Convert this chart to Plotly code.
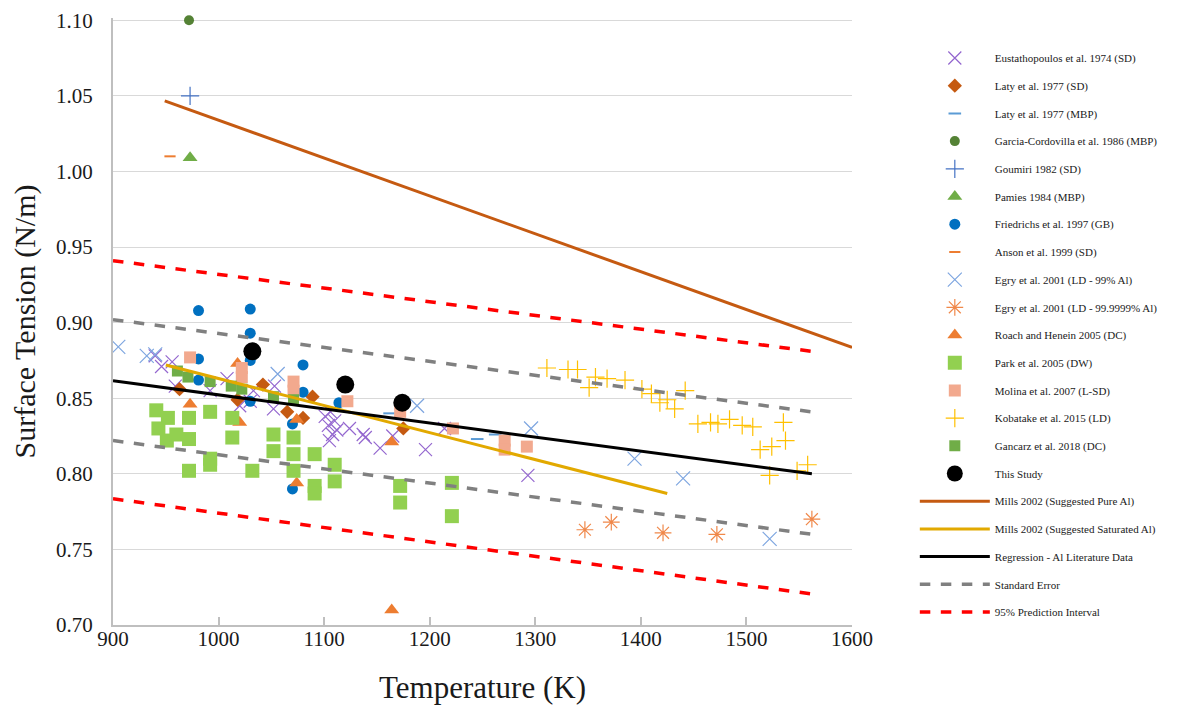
import plotly.graph_objects as go

# ---------------- data ----------------
eus_T = [940, 946, 956, 959, 992, 1008, 1020, 1030, 1033, 1052, 1053, 1101, 1104, 1106, 1108, 1110, 1112, 1105, 1124, 1137, 1139, 1153, 1165, 1196, 1214, 1293]
eus_g = [0.878, 0.871, 0.874, 0.858, 0.855, 0.863, 0.845, 0.848, 0.855, 0.843, 0.858, 0.838, 0.832, 0.841, 0.826, 0.835, 0.829, 0.822, 0.830, 0.826, 0.824, 0.817, 0.825, 0.816, 0.830, 0.799]

latySD_T = [963, 1018, 1042, 1065, 1080, 1089, 1175]
latySD_g = [0.856, 0.849, 0.859, 0.841, 0.837, 0.851, 0.830]

latyMBP_T = [1162, 1245, 1262]
latyMBP_g = [0.840, 0.823, 0.826]

garcia_T = [972]
garcia_g = [1.10]

goumiri_T = [973]
goumiri_g = [1.05]

pamies_T = [973]
pamies_g = [1.009]

fried_T = [981, 981, 981, 1030, 1030, 1030, 1030, 1080, 1080, 1070, 1070, 1114, 1120, 1172]
fried_g = [0.908, 0.876, 0.862, 0.909, 0.893, 0.875, 0.848, 0.872, 0.854, 0.833, 0.790, 0.847, 0.858, 0.845]

anson_T = [954]
anson_g = [1.010]

egry99_T = [905, 932, 940, 1056, 1188, 1296, 1394, 1440, 1522]
egry99_g = [0.884, 0.878, 0.879, 0.866, 0.845, 0.830, 0.810, 0.797, 0.757]

egry6_T = [1347, 1372, 1421, 1472, 1562]
egry6_g = [0.763, 0.768, 0.761, 0.760, 0.770]

roach_T = [973, 1018, 1020, 1074, 1074, 1164, 1164]
roach_g = [0.846, 0.873, 0.834, 0.836, 0.794, 0.821, 0.710]

park_T = [941, 952, 943, 951, 960, 972, 972, 972, 992, 992, 992, 1013, 1013, 1032, 1052, 1052, 1071, 1071, 1071, 1091, 1091, 1091, 1110, 1110, 1172, 1172, 1221, 1221]
park_g = [0.842, 0.837, 0.830, 0.822, 0.826, 0.837, 0.823, 0.802, 0.841, 0.810, 0.806, 0.837, 0.824, 0.802, 0.826, 0.815, 0.824, 0.813, 0.802, 0.813, 0.792, 0.787, 0.806, 0.795, 0.792, 0.781, 0.794, 0.772]

molina_T = [973, 1022, 1022, 1071, 1071, 1122, 1172, 1222, 1271, 1271, 1292]
molina_g = [0.877, 0.870, 0.864, 0.861, 0.855, 0.848, 0.841, 0.830, 0.822, 0.816, 0.818]

koba_T = [1311, 1331, 1340, 1357, 1368, 1351, 1385, 1401, 1410, 1418, 1425, 1432, 1442, 1454, 1466, 1473, 1484, 1496, 1506, 1513, 1524, 1535, 1537, 1522, 1548, 1558]
koba_g = [0.870, 0.869, 0.869, 0.864, 0.863, 0.857, 0.862, 0.856, 0.853, 0.847, 0.849, 0.843, 0.855, 0.833, 0.834, 0.833, 0.836, 0.832, 0.831, 0.816, 0.818, 0.834, 0.822, 0.799, 0.802, 0.806]

gancarz_T = [961, 971, 992, 1012, 1022, 1052, 1071]
gancarz_g = [0.868, 0.864, 0.861, 0.858, 0.856, 0.851, 0.849]

study_T = [1032, 1120, 1174]
study_g = [0.881, 0.859, 0.847]

mills_pure_T = [949, 1600]
mills_pure_g = [1.0467, 0.8836]

mills_sat_T = [950, 1425]
mills_sat_g = [0.872, 0.787]

reg_T = [900, 1562]
reg_g = [0.8615, 0.800]

se_upper_T = [900, 1562]
se_upper_g = [0.902, 0.841]
se_lower_T = [900, 1562]
se_lower_g = [0.822, 0.760]

pi_upper_T = [900, 1562]
pi_upper_g = [0.941, 0.881]
pi_lower_T = [900, 1562]
pi_lower_g = [0.7835, 0.7205]

x_ticks = [900, 1000, 1100, 1200, 1300, 1400, 1500, 1600]
y_ticks = [0.70, 0.75, 0.80, 0.85, 0.90, 0.95, 1.00, 1.05, 1.10]

# ---------------- figure ----------------
fig = go.Figure()
gid = [0]


def scat(x, y, name, symbol, color, size, line_w=0, open_=False):
    gid[0] += 1
    if open_:
        marker = dict(symbol=symbol, size=size, color=color, line=dict(color=color, width=line_w))
    else:
        marker = dict(symbol=symbol, size=size, color=color, line=dict(width=0))
    fig.add_trace(go.Scatter(x=x, y=y, mode="markers", name=name, marker=marker,
                             cliponaxis=False, legendgroup="g%d" % gid[0]))


def line(x, y, name, color, width, dash="solid"):
    gid[0] += 1
    fig.add_trace(go.Scatter(x=x, y=y, mode="lines", name=name,
                             line=dict(color=color, width=width, dash=dash),
                             legendgroup="g%d" % gid[0]))


scat(eus_T, eus_g, "Eustathopoulos et al. 1974 (SD)", "x-thin-open", "#9467CF", 13, 1.2, True)
scat(latySD_T, latySD_g, "Laty et al. 1977 (SD)", "diamond", "#C55A11", 11)
scat(latyMBP_T, latyMBP_g, "Laty et al. 1977 (MBP)", "line-ew-open", "#5B9BD5", 9, 2, True)
scat(garcia_T, garcia_g, "Garcia-Cordovilla et al. 1986 (MBP)", "circle", "#548235", 10)
scat(goumiri_T, goumiri_g, "Goumiri 1982 (SD)", "cross-thin-open", "#4472C4", 13, 1.2, True)
scat(pamies_T, pamies_g, "Pamies 1984 (MBP)", "triangle-up", "#70AD47", 13)
scat(fried_T, fried_g, "Friedrichs et al. 1997 (GB)", "circle", "#0070C0", 11)
scat(anson_T, anson_g, "Anson et al. 1999 (SD)", "line-ew-open", "#ED7D31", 8, 2, True)
scat(egry99_T, egry99_g, "Egry et al. 2001 (LD - 99% Al)", "x-thin-open", "#7EA6E0", 14, 1.2, True)
scat(egry6_T, egry6_g, "Egry et al. 2001 (LD - 99.9999% Al)", "asterisk-open", "#F0884A", 14, 1.2, True)
scat(roach_T, roach_g, "Roach and Henein 2005 (DC)", "triangle-up", "#ED7D31", 13)
scat(park_T, park_g, "Park et al. 2005 (DW)", "square", "#92D050", 14)
scat(molina_T, molina_g, "Molina et al. 2007 (L-SD)", "square", "#F2A98E", 12)
scat(koba_T, koba_g, "Kobatake et al. 2015 (LD)", "cross-thin-open", "#FFC000", 13, 1.2, True)
scat(gancarz_T, gancarz_g, "Gancarz et al. 2018 (DC)", "square", "#70AD47", 11)
scat(study_T, study_g, "This Study", "circle", "#000000", 18)

line(mills_pure_T, mills_pure_g, "Mills 2002 (Suggested Pure Al)", "#C55A11", 3)
line(mills_sat_T, mills_sat_g, "Mills 2002 (Suggested Saturated Al)", "#E2A900", 3)
line(reg_T, reg_g, "Regression - Al Literature Data", "#000000", 3)
gid[0] += 1
g_se = "g%d" % gid[0]
fig.add_trace(go.Scatter(x=se_upper_T, y=se_upper_g, mode="lines", name="Standard Error",
                         line=dict(color="#808080", width=3.5, dash="dash"), legendgroup=g_se))
fig.add_trace(go.Scatter(x=se_lower_T, y=se_lower_g, mode="lines", name="Standard Error",
                         line=dict(color="#808080", width=3.5, dash="dash"), legendgroup=g_se,
                         showlegend=False))
gid[0] += 1
g_pi = "g%d" % gid[0]
fig.add_trace(go.Scatter(x=pi_upper_T, y=pi_upper_g, mode="lines", name="95% Prediction Interval",
                         line=dict(color="#FF0000", width=3.5, dash="dash"), legendgroup=g_pi))
fig.add_trace(go.Scatter(x=pi_lower_T, y=pi_lower_g, mode="lines", name="95% Prediction Interval",
                         line=dict(color="#FF0000", width=3.5, dash="dash"), legendgroup=g_pi,
                         showlegend=False))

serif = "Liberation Serif, Times New Roman, serif"

fig.update_layout(
    width=1182, height=697,
    margin=dict(l=105, r=338, t=10, b=80),
    paper_bgcolor="white", plot_bgcolor="white",
    font=dict(family=serif, color="#1a1a1a"),
    showlegend=True,
    legend=dict(x=1.085, y=0.958, xanchor="left", yanchor="top",
                font=dict(family=serif, size=11, color="#1a1a1a"),
                tracegroupgap=8.7, bgcolor="rgba(0,0,0,0)",
                traceorder="grouped", itemwidth=70, maxheight=690),
    xaxis=dict(range=[900, 1600], tickvals=x_ticks, showgrid=False,
               showline=True, linecolor="#BFBFBF", linewidth=2,
               ticks="inside", ticklen=8, tickcolor="#BFBFBF", tickwidth=1.5,
               ticklabelstandoff=-6, automargin=False, ticklabeloverflow="allow",
               tickfont=dict(family=serif, size=21, color="#1a1a1a"),
               title=dict(text="Temperature (K)", font=dict(family=serif, size=31, color="#1a1a1a"),
                          standoff=28),
               zeroline=False),
    yaxis=dict(range=[0.70, 1.1015], tickvals=y_ticks, tickformat=".2f",
               showgrid=True, gridcolor="#D9D9D9", gridwidth=1.2,
               showline=True, linecolor="#BFBFBF", linewidth=2,
               ticks="", ticklabelstandoff=14, automargin=False, ticklabeloverflow="allow",
               tickfont=dict(family=serif, size=21, color="#1a1a1a"),
               title=dict(text="Surface Tension (N/m)", font=dict(family=serif, size=30, color="#1a1a1a"),
                          standoff=12),
               zeroline=False),
)

fig.write_html("out.html")
